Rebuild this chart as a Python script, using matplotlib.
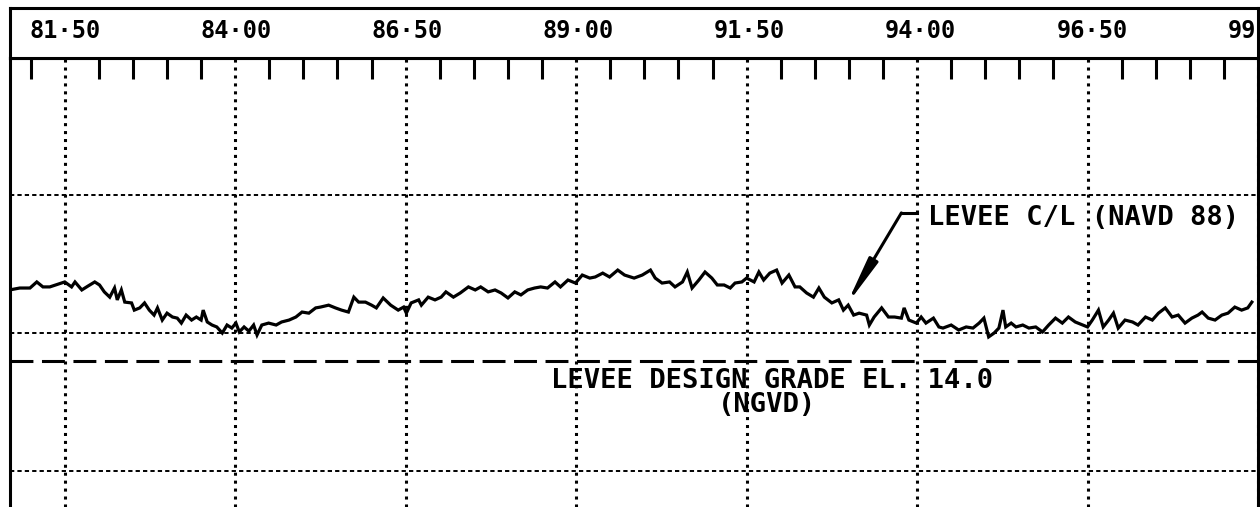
import matplotlib.pyplot as plt
from matplotlib.ticker import MultipleLocator

# levee centerline survey: station (ft) and top elevation (ft, NAVD 88)
station = [
    8069, 8084, 8099, 8109, 8118, 8128, 8140, 8150, 8160, 8165,
    8175, 8184, 8194, 8201, 8208, 8216, 8223, 8227, 8233, 8238,
    8248, 8252, 8260, 8267, 8274, 8281, 8286, 8293, 8300, 8308,
    8315, 8321, 8328, 8336, 8343, 8350, 8353, 8359, 8366, 8373,
    8381, 8388, 8395, 8401, 8406, 8413, 8420, 8427, 8432, 8439,
    8449, 8460, 8468, 8479, 8489, 8498, 8508, 8518,
    8525, 8537, 8547, 8556, 8566, 8574, 8581, 8591, 8600, 8607,
    8617, 8628, 8639, 8647, 8651, 8658, 8669, 8673, 8683, 8693,
    8702, 8709, 8720, 8730, 8742, 8752, 8760, 8771, 8781, 8790,
    8800, 8810, 8819, 8829, 8839, 8848, 8858, 8869, 8877, 8888,
    8899, 8909, 8920, 8928, 8939, 8949, 8961, 8971, 8980,
    8985, 8997, 9009, 9016, 9026, 9037, 9045, 9056, 9063, 9070,
    9080, 9089, 9099, 9107, 9117, 9126, 9133, 9143, 9150, 9161,
    9168, 9175, 9184, 9194, 9202, 9212, 9221, 9228, 9238, 9248,
    9256, 9264, 9275, 9285, 9292, 9299, 9307, 9315, 9326, 9330,
    9337, 9348, 9358, 9367, 9377, 9381, 9388, 9399, 9406, 9413,
    9424, 9432,
    9438, 9450, 9461, 9472, 9482, 9491, 9498, 9505, 9513, 9520,
    9526, 9530, 9538, 9545, 9555, 9564, 9574, 9584, 9593, 9603,
    9613, 9622, 9632, 9643, 9650, 9657, 9666, 9673, 9681, 9688,
    9695, 9705, 9716, 9724, 9735, 9745, 9754, 9764, 9774, 9783,
    9793, 9803, 9812, 9818, 9827, 9837, 9847, 9856, 9866, 9876,
    9885, 9891,
]
elevation = [
    16.56, 16.63, 16.63, 16.85, 16.67, 16.67, 16.77, 16.85, 16.67, 16.85,
    16.56, 16.70, 16.85, 16.74, 16.49, 16.30, 16.63, 16.20, 16.56, 16.12,
    16.09, 15.83, 15.91, 16.09, 15.83, 15.65, 15.91, 15.47, 15.72, 15.58,
    15.54, 15.36, 15.65, 15.47, 15.58, 15.47, 15.83, 15.40, 15.29, 15.22,
    15.00, 15.29, 15.18, 15.36, 15.04, 15.22, 15.07, 15.29, 14.93, 15.29,
    15.36, 15.29, 15.40, 15.47, 15.58, 15.76, 15.72, 15.91,
    15.94, 16.01, 15.91, 15.83, 15.76, 16.30, 16.12, 16.12, 16.01, 15.91,
    16.27, 16.01, 15.83, 15.94, 15.72, 16.09, 16.20, 16.01, 16.30, 16.20,
    16.30, 16.49, 16.30, 16.45, 16.67, 16.56, 16.67, 16.49, 16.56, 16.45,
    16.27, 16.49, 16.38, 16.56, 16.63, 16.67, 16.63, 16.85, 16.67, 16.92,
    16.81, 17.10, 16.99, 17.03, 17.17, 17.03, 17.28, 17.10, 17.03,
    16.99, 17.10, 17.28, 16.99, 16.81, 16.85, 16.67, 16.85, 17.21, 16.63,
    16.92, 17.21, 16.99, 16.74, 16.74, 16.63, 16.81, 16.85, 16.99, 16.85,
    17.21, 16.92, 17.17, 17.28, 16.81, 17.10, 16.67, 16.67, 16.45, 16.30,
    16.63, 16.30, 16.09, 16.20, 15.83, 16.01, 15.65, 15.72, 15.65, 15.29,
    15.58, 15.91, 15.58, 15.58, 15.54, 15.91, 15.47, 15.36, 15.58, 15.36,
    15.54, 15.22,
    15.18, 15.29, 15.11, 15.22, 15.18, 15.36, 15.54, 14.86, 15.00, 15.18,
    15.83, 15.22, 15.36, 15.22, 15.29, 15.18, 15.22, 15.04, 15.29, 15.54,
    15.36, 15.58, 15.40, 15.29, 15.22, 15.47, 15.83, 15.22, 15.47, 15.72,
    15.18, 15.47, 15.40, 15.29, 15.58, 15.47, 15.72, 15.91, 15.58, 15.65,
    15.36, 15.54, 15.65, 15.76, 15.54, 15.47, 15.65, 15.72, 15.94, 15.83,
    15.91, 16.12,
]

grid_stations = [8150, 8400, 8650, 8900, 9150, 9400, 9650, 9900]
station_labels = ['81·50', '84·00', '86·50', '89·00', '91·50', '94·00', '96·50', '99·00']
grid_elevations = [10, 15, 20]
design_grade = 14.0

x_range = (8069.7, 9892.4)
y_range = (8.70, 24.96)

plt.rcParams['font.family'] = ['DejaVu Sans Mono']
INK = 'black'
FRAME_LW = 2.2

fig = plt.figure(figsize=(12.6, 5.07), dpi=100)
ax = fig.add_axes([10 / 1260, 0, 1248 / 1260, 449 / 507])
hdr = fig.add_axes([10 / 1260, 449 / 507, 1248 / 1260, 50 / 507])

# profile, design grade
ax.plot(station, elevation, color=INK, lw=2.3, solid_joinstyle='miter')
ax.axhline(design_grade, color=INK, lw=2.2, ls=(0, (7.5, 2.8)))

ax.set_xlim(*x_range)
ax.set_ylim(*y_range)
ax.set_xticks(grid_stations)
ax.xaxis.set_minor_locator(MultipleLocator(50))
ax.set_yticks(grid_elevations)
ax.tick_params(which='major', length=0, labelbottom=False, labelleft=False)
ax.tick_params(axis='x', which='minor', top=True, bottom=False,
               direction='in', length=15, width=2.2, color=INK)
ax.xaxis.grid(True, which='major', color=INK, lw=2.2, ls=(0, (1, 1.6)))
ax.yaxis.grid(True, color=INK, lw=1.4, ls=(0, (2.2, 1.6)))
ax.spines['bottom'].set_visible(False)
for side in ('top', 'left', 'right'):
    ax.spines[side].set_linewidth(FRAME_LW)

# leader to the centerline
tip = (9296, 16.0)
elbow = (9377, 19.35)
ax.annotate('', xy=tip, xytext=elbow,
            arrowprops=dict(arrowstyle='-|>,head_length=2.8,head_width=0.3',
                            color=INK, lw=2.2, shrinkA=0, shrinkB=0))
ax.plot([elbow[0], 9400], [elbow[1], elbow[1]], color=INK, lw=2.2)
ax.text(9416, 18.91, 'LEVEE C/L (NAVD 88)', ha='left', va='baseline',
        fontsize=19.5, fontweight='bold')

ax.text(9187, 13.0, f'LEVEE DESIGN GRADE EL. {design_grade:.1f}',
        ha='center', va='baseline', fontsize=19.5, fontweight='bold')
ax.text(9180, 12.14, '(NGVD)', ha='center', va='baseline',
        fontsize=19.5, fontweight='bold')

# station header strip; the last label runs past the frame and is clipped
hdr.set_xlim(*x_range)
hdr.set_ylim(0, 1)
hdr.set_xticks([])
hdr.set_yticks([])
for side in hdr.spines:
    hdr.spines[side].set_linewidth(FRAME_LW)
for s, lab in zip(grid_stations, station_labels):
    hdr.text(s, 0.4, lab, ha='center', va='baseline', fontsize=17,
             fontweight='bold', clip_on=True)

fig.savefig('out.png', dpi=100)
